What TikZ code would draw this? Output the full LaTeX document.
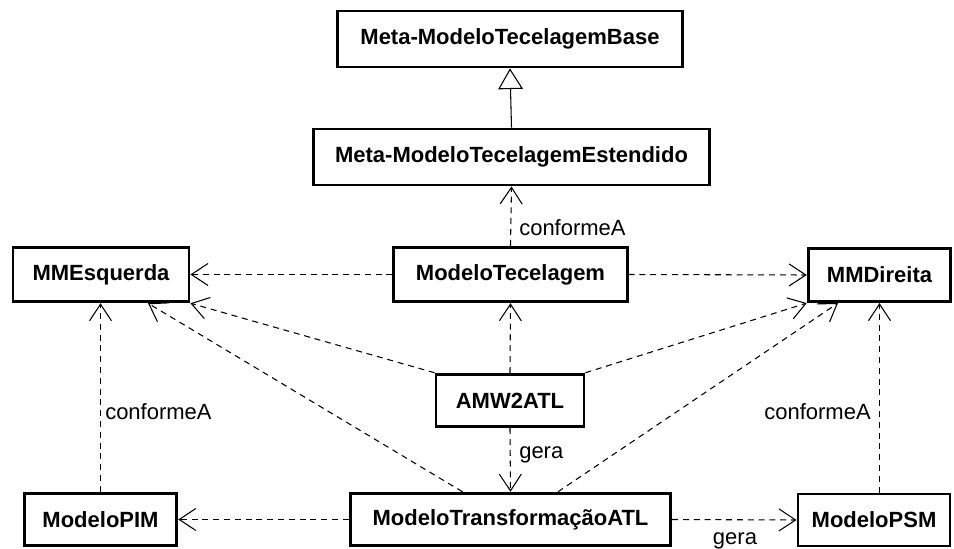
\documentclass[tikz,border=0pt]{standalone}
\usepackage{fontspec}
\setmainfont{Liberation Sans}
\usetikzlibrary{arrows.meta,calc}
\tikzset{
  cls/.style={draw, line width=2.1pt, fill=white, inner sep=0pt, font=\fontsize{16.5}{19}\selectfont\bfseries},
  dep/.style={line width=0.8pt, dash pattern=on 4.5pt off 3.6pt, -{Straight Barb[length=12.5pt,width=16.5pt,line width=0.8pt]}},
  gen/.style={line width=0.8pt, -{Triangle[open,length=15.5pt,width=18.5pt,line width=0.8pt,fill=white]}},
  lbl/.style={inner sep=0pt, font=\fontsize{16.5}{19}\selectfont}
}
\begin{document}
\begin{tikzpicture}[x=0.75pt,y=-0.75pt]
\useasboundingbox[fill=white] (0,0) rectangle (954,549);
\node[cls, minimum width=259pt, minimum height=42pt] (base) at (510,39) {Meta-ModeloTecelagemBase};
\node[cls, minimum width=297pt, minimum height=42pt] (est) at (511.5,157) {Meta-ModeloTecelagemEstendido};
\node[cls, minimum width=132pt, minimum height=41pt] (mme) at (101,274.5) {MMEsquerda};
\node[cls, minimum width=175pt, minimum height=41pt] (mt) at (510.5,274.5) {ModeloTecelagem};
\node[cls, minimum width=107pt, minimum height=40pt] (mmd) at (879.5,275) {MMDireita};
\node[cls, minimum width=111pt, minimum height=39.5pt] (amw) at (510,400.5) {AMW2ATL};
\node[cls, minimum width=114.5pt, minimum height=39.5pt] (pim) at (100.5,519.5) {ModeloPIM};
\node[cls, minimum width=240.5pt, minimum height=39.5pt] (mta) at (510.5,519.5) {ModeloTransformaçãoATL};
\node[cls, minimum width=114pt, minimum height=39pt] (psm) at (874,520) {ModeloPSM};

\draw[gen] (est.north) -- (base.south);
\draw[dep] (mt.north) -- (est.south);
\draw[dep] (mt.west) -- (mme.east);
\draw[dep] (mt.east) -- (mmd.west);
\draw[dep] (amw.north) -- (mt.south);
\draw[dep] (amw.north west) -- (mme.south east);
\draw[dep] (amw.north east) -- (mmd.south west);
\draw[dep] ($(mta.north)+(-48,0)$) -- ($(mme.south)+(47,0)$);
\draw[dep] ($(mta.north)+(47.5,0)$) -- ($(mmd.south)+(-41.5,0)$);
\draw[dep] (amw.south) -- (mta.north);
\draw[dep] (mta.west) -- (pim.east);
\draw[dep] (mta.east) -- (psm.west);
\draw[dep] (pim.north) -- (pim.north |- mme.south);
\draw[dep] (mmd.south |- psm.north) -- (mmd.south);

\node[lbl, anchor=west] (c1) at (519,228) {conformeA};
\node[lbl, anchor=west] (g1) at (519,455) {gera};
\node[lbl] (g2) at (735,541) {gera};
\node[lbl, anchor=west] (c2) at (105,412) {conformeA};
\node[lbl, anchor=east] (c3) at (871,412) {conformeA};
\end{tikzpicture}
\end{document}
